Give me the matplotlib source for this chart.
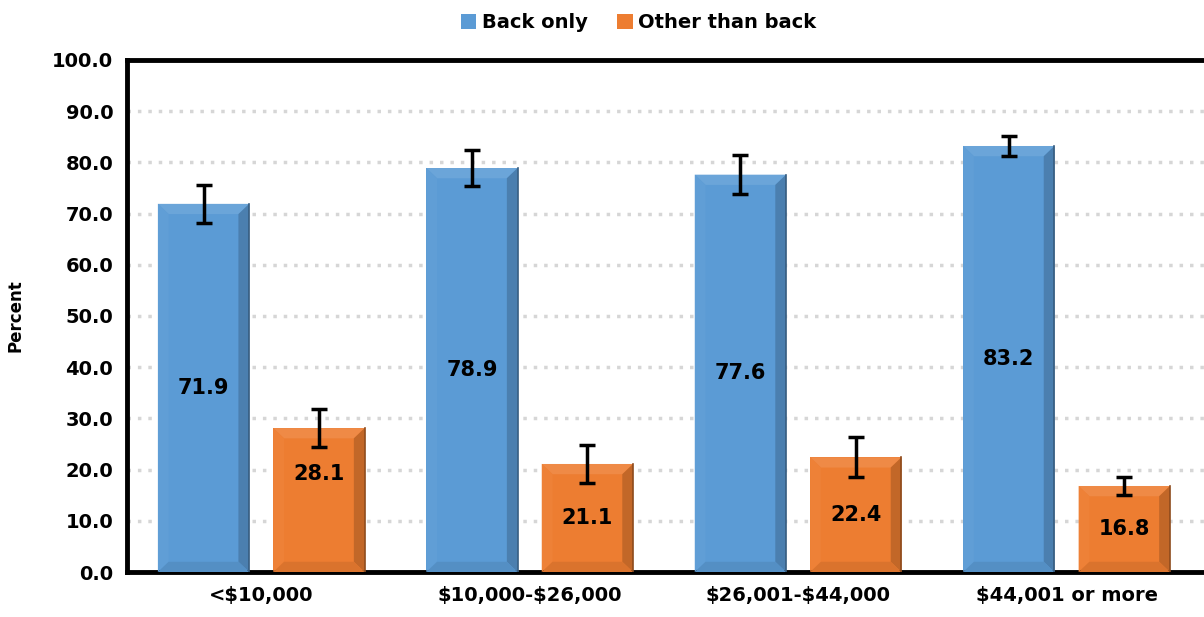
import matplotlib
matplotlib.use("Agg")
import matplotlib.pyplot as plt
import numpy as np
from matplotlib.patches import Polygon

categories = ["<\\$10,000", "\\$10,000-\\$26,000", "\\$26,001-\\$44,000", "\\$44,001 or more"]
back_only = [71.9, 78.9, 77.6, 83.2]
other_than_back = [28.1, 21.1, 22.4, 16.8]
back_err = [3.7, 3.5, 3.8, 2.0]
other_err = [3.7, 3.7, 3.9, 1.7]
y_ticks = [0, 10, 20, 30, 40, 50, 60, 70, 80, 90, 100]

BLUE = "#5b9bd5"
ORANGE = "#ed7d31"

plt.rcParams["font.family"] = ["DejaVu Sans"]
plt.rcParams["font.weight"] = "bold"


def shade(color, f):
    c = np.array(matplotlib.colors.to_rgb(color))
    if f > 0:
        c = c + (1 - c) * f
    else:
        c = c * (1 + f)
    return tuple(np.clip(c, 0, 1))


def bevel(ax, bar, color, bx=0.04, by=2.0):
    x0, y0 = bar.get_x(), bar.get_y()
    w, h = bar.get_width(), bar.get_height()
    x1, y1 = x0 + w, y0 + h
    by = min(by, h / 2)
    faces = [
        ([(x0, y1), (x1, y1), (x1 - bx, y1 - by), (x0 + bx, y1 - by)], 0.10),
        ([(x1, y0), (x1, y1), (x1 - bx, y1 - by), (x1 - bx, y0 + by)], -0.18),
        ([(x0, y0), (x0, y1), (x0 + bx, y1 - by), (x0 + bx, y0 + by)], 0.03),
        ([(x0, y0), (x1, y0), (x1 - bx, y0 + by), (x0 + bx, y0 + by)], -0.08),
    ]
    for pts, f in faces:
        ax.add_patch(Polygon(pts, closed=True, facecolor=shade(color, f),
                             edgecolor="none", zorder=3))
    # thin dark outline on right edge
    ax.plot([x1, x1], [y0, y1], color=shade(color, -0.4), lw=1.2, zorder=3)


fig = plt.figure(figsize=(12.04, 6.17), dpi=100)
ax = fig.add_axes([0.1055, 0.0729, 0.8945, 0.8299])

x = np.arange(len(categories))
width = 0.34
off = 0.215

bars1 = ax.bar(x - off, back_only, width, color=BLUE, zorder=2, label="Back only")
bars2 = ax.bar(x + off, other_than_back, width, color=ORANGE, zorder=2,
               label="Other than back")
for b in bars1:
    bevel(ax, b, BLUE)
for b in bars2:
    bevel(ax, b, ORANGE)

ax.errorbar(x - off, back_only, yerr=back_err, fmt="none", ecolor="black",
            elinewidth=2.5, capsize=6, capthick=2.5, zorder=5)
ax.errorbar(x + off, other_than_back, yerr=other_err, fmt="none", ecolor="black",
            elinewidth=2.5, capsize=6, capthick=2.5, zorder=5)

for b, v in zip(bars1, back_only):
    ax.text(b.get_x() + b.get_width() / 2, v / 2, f"{v:.1f}", ha="center",
            va="center", fontsize=15, fontweight="bold", zorder=6)
for i, (b, v) in enumerate(zip(bars2, other_than_back)):
    ypos = v / 2 if i else v * 0.68
    ax.text(b.get_x() + b.get_width() / 2, ypos, f"{v:.1f}", ha="center",
            va="center", fontsize=15, fontweight="bold", zorder=6)

ax.set_xlim(-0.5, len(categories) - 0.5 + 0.012)
ax.set_ylim(0, 100)
ax.set_yticks(y_ticks)
ax.set_yticklabels([f"{t:.1f}" for t in y_ticks], fontsize=14, fontweight="bold")
ax.set_xticks(x)
ax.set_xticklabels(categories, fontsize=14, fontweight="bold")
ax.tick_params(axis="both", length=0, pad=10)
ax.set_ylabel("Percent", fontsize=12, fontweight="bold", labelpad=20)

ax.yaxis.grid(True, color="#d6d6d6", linestyle=(0, (1, 2)), linewidth=2.5)
ax.set_axisbelow(True)
ax.spines["right"].set_visible(False)
for s in ["left", "top", "bottom"]:
    ax.spines[s].set_linewidth(3.5)
    ax.spines[s].set_color("black")

leg = ax.legend(loc="lower center", bbox_to_anchor=(0.475, 1.02), ncol=2,
                frameon=False, handlelength=0.8, handleheight=0.8,
                handletextpad=0.3, columnspacing=1.5,
                prop={"weight": "bold", "size": 14})

fig.savefig("out.png", dpi=100)
